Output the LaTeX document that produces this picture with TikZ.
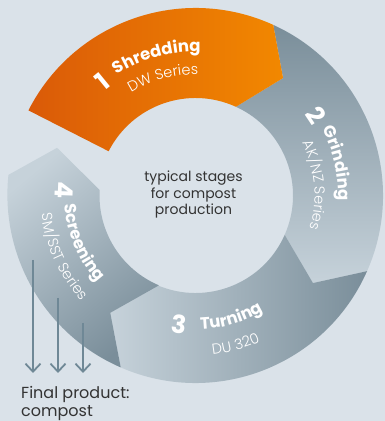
\documentclass[tikz,border=0pt]{standalone}
\usepackage{fontspec}
\setmainfont{Poppins}
\newfontfamily\lightfont{Poppins Light}
\usetikzlibrary{arrows.meta,decorations.text}
\definecolor{bg}{HTML}{DAE2E9}
\definecolor{orA}{HTML}{DA5A08}
\definecolor{orB}{HTML}{F28800}
\definecolor{grD}{HTML}{7A8E9A}
\definecolor{grL}{HTML}{C6D2DA}
\definecolor{arr}{HTML}{6F8896}
\definecolor{txt}{HTML}{333333}
\newcommand\mainlab{\fontsize{16.5}{18}\selectfont\bfseries}
\newcommand\sublab{\fontsize{14.5}{16}\selectfont\lightfont}
\newcommand\numlab{\fontsize{25}{25}\selectfont\bfseries}
\tikzset{
  seg/.style={draw=none},
  numnode/.style={text=white, inner sep=0pt, font=\numlab},
  flowarrow/.style={draw=arr, line width=1.8pt, -{Straight Barb[length=8pt,width=15pt,line width=1.8pt]}},
  outtext/.style={decorate, decoration={text along path, text align=center, text color=white, text=#1}},
}
\begin{document}
\begin{tikzpicture}[x=1pt,y=1pt]
\fill[bg] (0,0) rectangle (385,421);
\useasboundingbox (0,0) rectangle (385,421);
\begin{scope}[shift={(195.5,225.5)}]
  % segment 2
  \shade[seg, top color=grD, bottom color=grL]
    (65.5:187.5pt) arc[start angle=65.5, end angle=-23.8, radius=187.5pt]
    -- (-36.7:146.5pt) -- (-23.8:97.5pt)
    arc[start angle=-23.8, end angle=65.5, radius=97.5pt]
    -- (53.3:146.5pt) -- cycle;
  % segment 3
  \shade[seg, left color=grL, right color=grD]
    (-23.8:187.5pt) arc[start angle=-23.8, end angle=-113.5, radius=187.5pt]
    -- (-126:145pt) -- (-113:97.5pt)
    arc[start angle=-113, end angle=-23.8, radius=97.5pt]
    -- (-36.7:146.5pt) -- cycle;
  % segment 4
  \shade[seg, top color=grL, bottom color=grD, shading angle=40]
    (246.5:187.5pt) arc[start angle=246.5, end angle=174, radius=188.5pt]
    -- (161:146.4pt) -- (176.7:96pt)
    arc[start angle=176.7, end angle=247, radius=97.5pt]
    -- (-126:145pt) -- cycle;
  % segment 1
  \shade[seg, left color=orA, right color=orB]
    (153:187.5pt) arc[start angle=153, end angle=65.5, radius=187.5pt]
    -- (53.3:146.5pt) -- (65.5:97.5pt)
    arc[start angle=65.5, end angle=153, radius=97.5pt] -- cycle;

  % labels
  \node[numnode, rotate=39.3] (n1) at (129.3:147pt) {1};
  \path[outtext={|\mainlab|Shredding}] (145.5:144pt) arc[start angle=145.5, end angle=65.5, radius=144pt];
  \path[outtext={|\sublab|DW Series}] (145.4:121pt) arc[start angle=145.4, end angle=65.4, radius=121pt];

  \node[numnode, rotate=-56.4] (n2) at (33.6:145.5pt) {2};
  \path[outtext={|\mainlab|Grinding}] (52.9:143pt) arc[start angle=52.9, end angle=-27.1, radius=143pt];
  \path[outtext={|\sublab|AK{/}NZ Series}] (50:119pt) arc[start angle=50, end angle=-40, radius=119pt];

  \node[numnode, rotate=-7.3] (n3) at (-97.3:129.6pt) {3};
  \path[outtext={|\mainlab|Turning}] (-113.7:134pt) arc[start angle=-113.7, end angle=-33.7, radius=134pt];
  \path[outtext={|\sublab|DU 320}] (-115:160pt) arc[start angle=-115, end angle=-35, radius=160pt];

  \node[numnode, rotate=-92.1] (n4) at (177.9:131.6pt) {4};
  \path[outtext={|\mainlab|Screening}] (162.8:131pt) arc[start angle=162.8, end angle=242.8, radius=131pt];
  \path[outtext={|\sublab|SM{/}SST Series}] (164.8:155pt) arc[start angle=164.8, end angle=244.8, radius=155pt];

  \node[text=txt, align=center, font=\fontsize{14}{16.7}\selectfont] (center) at (-2,1) {typical stages\\for compost\\production};
\end{scope}

\coordinate (a1s) at (33,161);
\coordinate (a1e) at (33,48);
\coordinate (a2s) at (58,123);
\coordinate (a2e) at (58,48);
\coordinate (a3s) at (83,98);
\coordinate (a3e) at (83,48);
\draw[flowarrow] (a1s) -- (a1e);
\draw[flowarrow] (a2s) -- (a2e);
\draw[flowarrow] (a3s) -- (a3e);
\node[text=txt, anchor=base west, inner sep=0pt, font=\fontsize{16}{19}\selectfont] (fp1) at (21,23) {Final product:};
\node[text=txt, anchor=base west, inner sep=0pt, font=\fontsize{16}{19}\selectfont] (fp2) at (21,5) {compost};
\end{tikzpicture}
\end{document}
